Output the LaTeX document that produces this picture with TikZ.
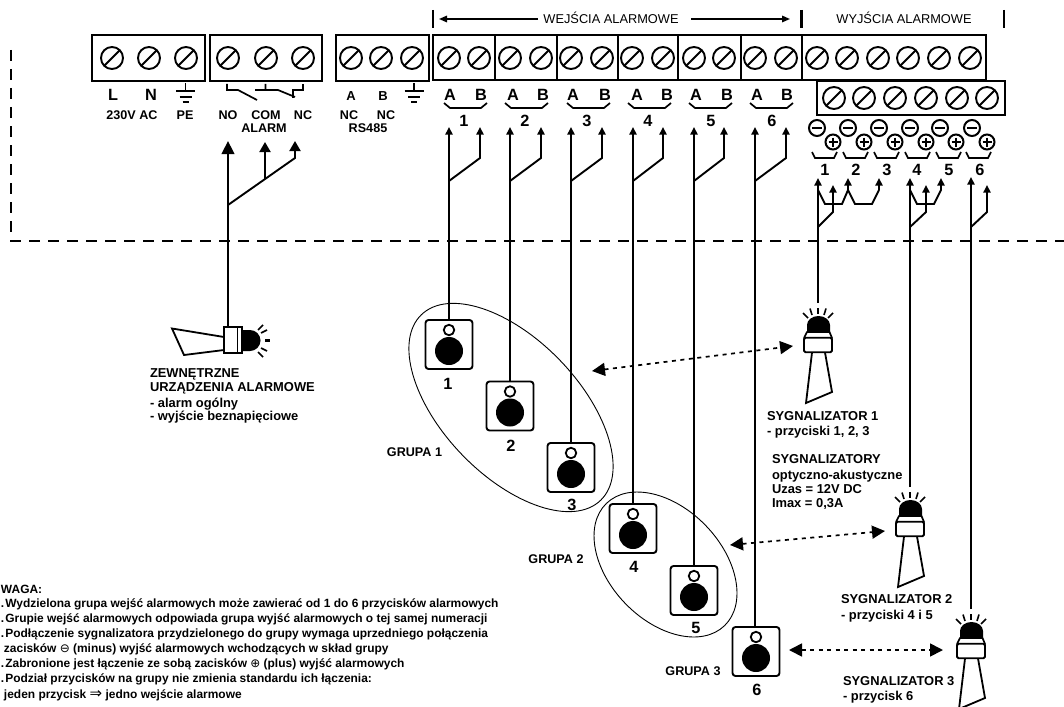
\documentclass[tikz,border=0pt]{standalone}
\usepackage{fontspec}
\setmainfont{Liberation Sans}
\newfontfamily\symf{DejaVu Sans}
\usetikzlibrary{arrows.meta,shapes.geometric,calc}
\newcommand{\fz}[1]{\fontsize{#1}{#1}\selectfont}
\tikzset{
 x=1pt,y=-1pt,
 every node/.style={inner sep=0pt,outer sep=0pt},
 block/.style={draw,line width=2pt,fill=white,anchor=north west},
 screw/.style={circle,draw,line width=1.9pt,minimum size=22pt,path picture={\draw[line width=1.9pt] (path picture bounding box.south west)--(path picture bounding box.north east);}},
 lab/.style={font=\bfseries\fz{12.6},anchor=base},
 big/.style={font=\bfseries\fz{16.3},anchor=base},
 txt/.style={font=\bfseries\fz{12.9},anchor=base west},
 note/.style={font=\bfseries\fz{11.95},anchor=base west},
 top/.style={font=\fz{12.8},anchor=base},
 wire/.style={line width=1.9pt},
 inarrow/.style={line width=1.9pt,-{Triangle[length=7.5pt,width=7pt]}},
 bigarrow/.style={line width=2.3pt,-{Triangle[length=13pt,width=12.5pt]}},
 midarrow/.style={line width=1.9pt,-{Triangle[length=10pt,width=11pt]}},
 dbl/.style={line width=1.7pt,dash pattern=on 4pt off 4.5pt,{Triangle[length=13pt,width=13pt]}-{Triangle[length=13pt,width=13pt]}},
 outline dash/.style={line width=1.5pt,dash pattern=on 11pt off 8pt},
 btnbox/.style={draw,line width=1.9pt,rounded corners=3pt,minimum width=47pt,minimum height=49pt},
 ledc/.style={circle,draw,line width=1.8pt,minimum size=10.5pt,fill=white},
 bigc/.style={circle,fill=black,minimum size=28pt},
 grp/.style={ellipse,draw,line width=0.9pt,rotate=-46,inner sep=0pt},
 minusc/.style={circle,draw,line width=2pt,minimum size=16pt,path picture={\draw[line width=1.9pt] ($(path picture bounding box.west)+(3pt,0)$)--($(path picture bounding box.east)+(-3pt,0)$);}},
 plusc/.style={circle,draw,line width=2pt,minimum size=15pt,fill=white,path picture={\draw[line width=2pt] ($(path picture bounding box.west)+(3pt,0)$)--($(path picture bounding box.east)+(-3pt,0)$) ($(path picture bounding box.north)+(0,-3pt)$)--($(path picture bounding box.south)+(0,3pt)$);}},
}
\newcommand{\earth}[2]{%
 \draw[line width=1.8pt] (#1,#2) -- (#1,#2+8);
 \draw[line width=2.2pt] (#1-9.5,#2+8) -- (#1+9.5,#2+8);
 \draw[line width=2.2pt] (#1-6,#2+14) -- (#1+6,#2+14);
 \draw[line width=2.2pt] (#1-3,#2+19) -- (#1+3,#2+19);}
\newcommand{\lamp}[3]{% name, dx, dy
 \begin{scope}[shift={(#2,#3)}]
 \fill (807,333) -- (807,325) arc[start angle=180,end angle=0,x radius=11.5pt,y radius=9pt] -- (830,333) -- cycle;
 \draw[line width=1.7pt,fill=white,line join=round] (807,332) -- (804,338) -- (832,338) -- (829.5,332) -- cycle;
 \node[draw,line width=1.9pt,rounded corners=1.5pt,fill=white,minimum width=28pt,minimum height=14.5pt] (#1) at (818,345) {};
 \draw[line width=1.8pt,line join=miter] (812,352.5) -- (806,403) -- (832,392) -- (825,352.5);
 \draw[line width=2.6pt] (818,308) -- (818,314);
 \draw[line width=1.6pt] (810,308.5) -- (812,315);
 \draw[line width=1.6pt] (826,308.5) -- (824,315);
 \draw[line width=1.6pt] (803,313) -- (808,318);
 \draw[line width=1.6pt] (833,313) -- (828,318);
 \end{scope}}
\begin{document}
\begin{tikzpicture}
\useasboundingbox (0,0) rectangle (1064,706);
\clip (0,0) rectangle (1064,706);
% outline
\coordinate (oa) at (11,50); \coordinate (ob) at (11,241); \coordinate (oc) at (1064,241);
\draw[outline dash] (oa) -- (ob) -- (oc);
% terminal blocks
\node[block,minimum width=113pt,minimum height=46pt] (b1) at (92,35) {};
\node[block,minimum width=112pt,minimum height=46pt] (b2) at (210,35) {};
\node[block,minimum width=93pt,minimum height=46pt] (b3) at (336,35) {};
\node[block,minimum width=184pt,minimum height=45pt] (b5) at (802,35) {};
\foreach \a/\b in {433/495,495/557,557/618,618/678,678/741,741/802}{
  \draw[line width=2pt,fill=white] (\a,35) rectangle (\b,80);}
\node[block,minimum width=188pt,minimum height=34pt] (b6) at (817,81) {};
\foreach \n/\p in {a/112,b/149,c/186,d/228,e/266,f/303,g/351,h/381,i/412,
  j/449,k/479,l/510,m/541,n/571,o/602,p/632,q/663,r/694,s/724,t/755,u/786,
  v/817,w/847,x/878,y/908,z/939,aa/970}
  \node[screw] (sc\n) at (\p,58) {};
\foreach \n/\p in {1/834,2/864,3/895,4/926,5/957,6/987}
  \node[screw] (so\n) at (\p,98) {};
% top captions
\draw[line width=2.8pt] (433,10) -- (433,28) (801.5,10) -- (801.5,28) (1004,10) -- (1004,28);
\node[top] (wej) at (611,23.5) {WEJŚCIA ALARMOWE};
\node[top] (wyj) at (904,23.5) {WYJŚCIA ALARMOWE};
\coordinate (wl) at (439,19); \coordinate (wr) at (790,19);
\draw[line width=1.6pt,-{Triangle[length=8pt,width=6.5pt]}] (538,19) -- (wl);
\draw[line width=1.6pt,-{Triangle[length=8pt,width=6.5pt]}] (691,19) -- (wr);
% power labels
\node[big] (lL) at (113,100.5) {L};
\node[big] (lN) at (151,100.5) {N};
\earth{185.5}{83}
\node[lab] (l230) at (132,119.5) {230V AC};
\node[lab] (lPE) at (185,119.5) {PE};
% relay
\draw[line width=1.7pt] (227,84) -- (227,90) -- (238,90) -- (257,100);
\draw[line width=1.7pt] (265.5,84) -- (265.5,90) (255,90) -- (278,90) -- (295,97);
\draw[line width=1.7pt] (303,84) -- (303,90) -- (293,90) -- (293,98);
\node[lab] (lNO) at (228,119.5) {NO};
\node[lab] (lCOM) at (266,119.5) {COM};
\node[lab] (lNC) at (303,119.5) {NC};
\node[lab] (lAL) at (264,132.5) {ALARM};
% rs485
\node[font=\bfseries\fz{13},anchor=base] (lA) at (351,100.5) {A};
\node[font=\bfseries\fz{13},anchor=base] (lB) at (383,100.5) {B};
\earth{414}{83}
\node[lab] (lNC1) at (349,119.5) {NC};
\node[lab] (lNC2) at (386,119.5) {NC};
\node[lab] (lRS) at (368,132.5) {RS485};
% input labels
\foreach \i/\a/\b/\l/\r/\c in {1/450/481/444/487/464,2/513/543/505/548/525,3/573/605/567/610/587,4/637/667/628/671/648,5/696/727/689/732/711,6/757/787/750/793/772}{
  \node[big] (ia\i) at (\a,100.5) {A};
  \node[big] (ib\i) at (\b,100.5) {B};
  \draw[line width=1.7pt] (\l,103) -- (\l+6,108) -- (\r-6,108) -- (\r,103);
  \node[big] (in\i) at (\c,126) {\i};
}
% buttons
\foreach \i/\x/\y in {1/449/344.5,2/510/406,3/571/467.5,4/633/528.5,5/694/590.5,6/756/651.5}{
  \node[btnbox] (btn\i) at (\x,\y) {};
  \node[ledc] (led\i) at (\x,\y-14.5) {};
  \node[bigc] (push\i) at (\x,\y+6.5) {};
}
\foreach \i/\x/\y in {1/448/389,2/511/451,3/572/510,4/634/572,5/696/633,6/757/695}
  \node[big] (bn\i) at (\x,\y) {\i};
% input wires
\foreach \i/\a/\b in {1/449/480,2/510/541,3/571/602,4/633/663,5/694/724,6/755/786}{
  \coordinate (ta\i) at (\a,127);
  \coordinate (tb\i) at (\b,127);
  \draw[inarrow] (btn\i.north -| ta\i) -- (ta\i);
  \draw[inarrow] (\a,181) -- (\b,158) -- (tb\i);
}
% alarm wires and siren
\coordinate (tNO) at (228,141); \coordinate (tCOM) at (265,142); \coordinate (tNC) at (295,141);
\node[draw,line width=1.9pt,fill=white,minimum width=18pt,minimum height=26pt] (siren) at (233,340) {};
\draw[line width=1.6pt] (237.5,327) -- (237.5,353);
\draw[bigarrow] (siren.north -| tNO) -- (tNO);
\draw[midarrow] (265,179) -- (tCOM);
\draw[midarrow] (228,205) -- (295,158) -- (tNC);
\draw[line width=1.8pt] (224,337) -- (172,328.5) -- (184,355) -- (224,350);
\fill (242,330) -- (250,330) arc[start angle=90,end angle=-90,x radius=10.5pt,y radius=10.5pt] -- (242,351) -- cycle;
\draw[line width=2.6pt] (265,340.5) -- (270,340.5);
\draw[line width=1.6pt] (261,333) -- (267,330);
\draw[line width=1.6pt] (261,348) -- (267,351);
\draw[line width=1.6pt] (258,330) -- (263,325);
\draw[line width=1.6pt] (258,352) -- (263,357);
\node[txt] (z1) at (150,377) {ZEWNĘTRZNE};
\node[txt] (z2) at (150,391) {URZĄDZENIA ALARMOWE};
\node[txt] (z3) at (150,407) {- alarm ogólny};
\node[txt] (z4) at (150,420) {- wyjście beznapięciowe};
% outputs
\foreach \i/\x in {1/817,2/848,3/879,4/910,5/940,6/972}
  \node[minusc] (mi\i) at (\x,128) {};
\foreach \i/\x in {1/833,2/864,3/895,4/926,5/956,6/987}
  \node[plusc] (pl\i) at (\x,142) {};
\foreach \i/\l/\r/\c in {1/812/837/825,2/843/868/856,3/874/899/887,4/905/930/917,5/936/961/949,6/966/991/980}{
  \draw[line width=1.6pt] (\l,152) -- (\l+3,158) -- (\r-3,158) -- (\r,152);
  \node[big] (on\i) at (\c,175.5) {\i};
}
% lamps
\lamp{lampa}{0}{0}
\lamp{lampb}{92}{184}
\lamp{lampc}{153}{306}
\coordinate (ea) at (818,303); \coordinate (eb) at (910,487); \coordinate (ec) at (971,609);
\coordinate (t1) at (818,178); \coordinate (t2) at (848,178); \coordinate (t3) at (879,178);
\coordinate (t4) at (910,178); \coordinate (t5) at (941,178); \coordinate (t6) at (971,177);
\coordinate (p1) at (833,185); \coordinate (p2) at (926,185); \coordinate (p3) at (987,185);
\draw[inarrow] (ea) -- (t1);
\draw[inarrow] (eb) -- (t4);
\draw[inarrow] (ec) -- (t6);
\draw[inarrow] (818,227) -- (833,212) -- (p1);
\draw[inarrow] (910,227) -- (926,212) -- (p2);
\draw[inarrow] (971,227) -- (987,212) -- (p3);
\draw[inarrow] (818,190) -- (825,204) -- (842,204) -- (848,190) -- (t2);
\draw[wire] (848,190) -- (855,204) -- (872,204) -- (879,190);
\draw[inarrow] (879,190) -- (t3);
\draw[inarrow] (910,190) -- (917,204) -- (934,204) -- (941,190) -- (t5);
% groups
\node[grp,minimum width=258pt,minimum height=136pt] (g1) at (511,407.5) {};
\node[grp,minimum width=170pt,minimum height=112pt] (g2) at (665.5,564.5) {};
\node[lab] (gl1) at (414.5,456) {GRUPA 1};
\node[lab] (gl2) at (556,563) {GRUPA 2};
\node[lab] (gl3) at (693,675) {GRUPA 3};
% dashed double arrows
\coordinate (da1) at (592,371); \coordinate (da2) at (793,346);
\coordinate (db1) at (730,545); \coordinate (db2) at (885,531);
\coordinate (dc1) at (789,650); \coordinate (dc2) at (943,650);
\draw[dbl] (da1) -- (da2);
\draw[dbl] (db1) -- (db2);
\draw[dbl] (dc1) -- (dc2);
% lamp labels
\node[txt] (s1a) at (767,420) {SYGNALIZATOR 1};
\node[txt] (s1b) at (767,435) {- przyciski 1, 2, 3};
\node[txt] (sa) at (772,463) {SYGNALIZATORY};
\node[txt] (sb) at (772,479) {optyczno-akustyczne};
\node[txt] (sc) at (772,493) {Uzas = 12V DC};
\node[txt] (sd) at (772,507) {Imax = 0,3A};
\node[txt] (s2a) at (841,603) {SYGNALIZATOR 2};
\node[txt] (s2b) at (841,619) {- przyciski 4 i 5};
\node[txt] (s3a) at (843,685) {SYGNALIZATOR 3};
\node[txt] (s3b) at (843,700) {- przycisk 6};
% notes
\node[note] (n0) at (1,593) {WAGA:};
\node[note] (n1) at (1,607.5) {.\kern1pt Wydzielona grupa wejść alarmowych może zawierać od 1 do 6 przycisków alarmowych};
\node[note] (n2) at (1,622) {.\kern1pt Grupie wejść alarmowych odpowiada grupa wyjść alarmowych o tej samej numeracji};
\node[note] (n3) at (1,637) {.\kern1pt Podłączenie sygnalizatora przydzielonego do grupy wymaga uprzedniego połączenia};
\node[note] (n4) at (4,652) {zacisków {\symf\mdseries ⊖} (minus) wyjść alarmowych wchodzących w skład grupy};
\node[note] (n5) at (1,667) {.\kern1pt Zabronione jest łączenie ze sobą zacisków {\symf\mdseries ⊕} (plus) wyjść alarmowych};
\node[note] (n6) at (1,682) {.\kern1pt Podział przycisków na grupy nie zmienia standardu ich łączenia:};
\node[note] (n7) at (4,698) {jeden przycisk {\symf\mdseries\fz{15}⇒} jedno wejście alarmowe};
\end{tikzpicture}
\end{document}
